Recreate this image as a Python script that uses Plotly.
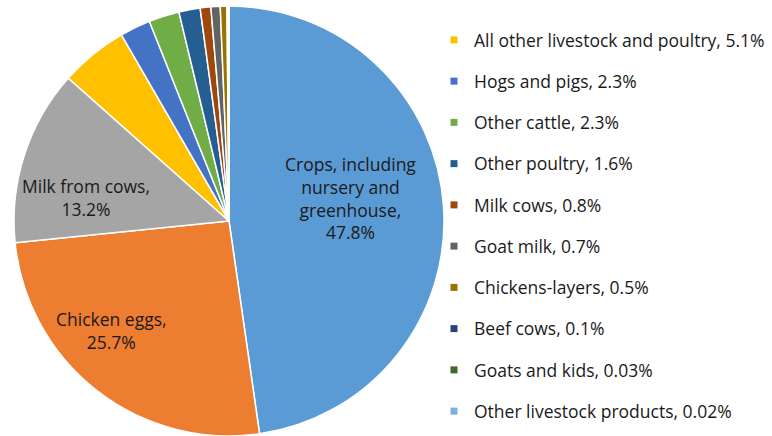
import plotly.graph_objects as go

categories = ["Crops, including nursery and greenhouse", "Chicken eggs", "Milk from cows",
              "All other livestock and poultry", "Hogs and pigs", "Other cattle", "Other poultry",
              "Milk cows", "Goat milk", "Chickens-layers", "Beef cows", "Goats and kids",
              "Other livestock products"]
values = [47.8, 25.7, 13.2, 5.1, 2.3, 2.3, 1.6, 0.8, 0.7, 0.5, 0.1, 0.03, 0.02]
value_labels = ["47.8%", "25.7%", "13.2%", "5.1%", "2.3%", "2.3%", "1.6%", "0.8%", "0.7%",
                "0.5%", "0.1%", "0.03%", "0.02%"]
colors = ["#5B9BD5", "#ED7D31", "#A5A5A5", "#FFC000", "#4472C4", "#70AD47", "#255E91",
          "#9E480E", "#636363", "#997300", "#264478", "#43682B", "#7CAFDD"]

# slice label text (only the three largest slices are labelled on the pie)
slice_label_text = [
    "Crops, including<br>nursery and<br>greenhouse,<br>47.8%",
    "Chicken eggs,<br>25.7%",
    "Milk from cows,<br>13.2%",
]
FONT = "Open Sans"
FS = 17.5
TXT = "#1a1a1a"

W, H = 772, 436
ML, MR, MT, MB = 0, 0, 6, 0

fig = go.Figure()
fig.add_trace(go.Pie(
    labels=categories, values=values, sort=False, direction="clockwise", rotation=0,
    marker=dict(colors=colors, line=dict(color="white", width=1.5)),
    textinfo="none", hoverinfo="label+percent", showlegend=False,
    domain=dict(x=[14 / W, 444 / W], y=[0, 1]),
))

# legend entries (only the smaller slices appear in the legend)
for i in range(3, len(categories)):
    fig.add_trace(go.Scatter(
        x=[None], y=[None], mode="markers",
        marker=dict(symbol="square", size=7, color=colors[i]),
        name=f"{categories[i]}, {value_labels[i]}", legendgroup=f"g{i}",
        showlegend=True, hoverinfo="skip",
    ))

label_px = [(350, 198), (112, 330), (86, 197.5)]
ph = H - MT - MB
for txt, (px, py) in zip(slice_label_text, label_px):
    fig.add_annotation(x=px / W, y=(H - MB - py) / ph, xref="paper", yref="paper",
                       text=txt, showarrow=False, xanchor="center", yanchor="middle",
                       font=dict(family=FONT, size=FS, color=TXT))

fig.update_layout(
    width=W, height=H, margin=dict(l=ML, r=MR, t=MT, b=MB),
    paper_bgcolor="white", plot_bgcolor="white",
    xaxis=dict(visible=False), yaxis=dict(visible=False),
    font=dict(family=FONT, size=FS, color=TXT),
    legend=dict(x=434 / W, xanchor="left", y=(H - 22) / ph, yanchor="top",
                traceorder="grouped", tracegroupgap=15.5,
                font=dict(family=FONT, size=FS, color=TXT),
                itemwidth=30, bgcolor="rgba(0,0,0,0)"),
)
fig.write_html("out.html")
